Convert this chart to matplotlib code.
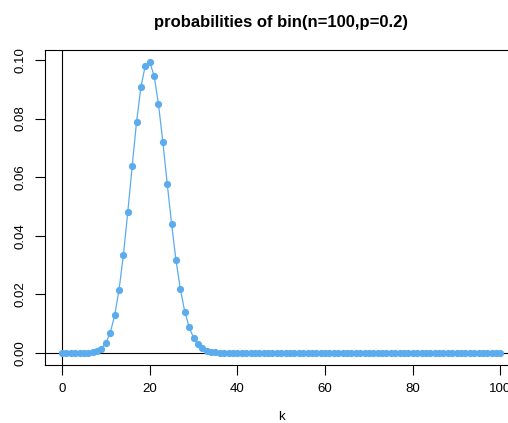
import matplotlib
matplotlib.use("Agg")
import matplotlib.pyplot as plt

plt.rcParams['font.family'] = ['Liberation Sans', 'DejaVu Sans']

# k = 0..100 and the probabilities
k = list(range(101))
prob_head = [0.0, 0.0, 0.0, 0.0, 0.0, 0.00001, 0.00006, 0.0002, 0.0006, 0.0015,
             0.0034, 0.0069, 0.0128, 0.0215, 0.0335, 0.0481, 0.0638, 0.0789, 0.0909, 0.0981,
             0.0993, 0.0946, 0.0849, 0.0720, 0.0577, 0.0439, 0.0316, 0.0217, 0.0141, 0.0088,
             0.0052, 0.0029, 0.0016, 0.0008, 0.0004, 0.0002, 0.0001, 0.00004, 0.00002, 0.00001]
prob = prob_head + [0.0] * (101 - len(prob_head))

title = "probabilities of bin(n=100,p=0.2)"
xticks = [0, 20, 40, 60, 80, 100]
yticks = [0.00, 0.02, 0.04, 0.06, 0.08, 0.10]

fig = plt.figure(figsize=(5.08, 4.23), dpi=100)
ax = fig.add_axes([0.0876, 0.138, 0.932, 0.743])

col = '#5aacee'
ax.plot(k, prob, '-', color=col, lw=0.9, zorder=3)
ax.plot(k, prob, 'o', color=col, ms=5.2, mec='none', zorder=4)
ax.axhline(0, color='black', lw=0.8, zorder=2)
ax.axvline(0, color='black', lw=0.8, zorder=2)

ax.set_xlim(-4, 104)
ax.set_ylim(-0.00397, 0.1033)
ax.set_xticks(xticks)
ax.set_xticklabels([str(v) for v in xticks])
ax.set_yticks(yticks)
ax.set_yticklabels(['%.2f' % v for v in yticks], rotation=90, va='center')
ax.tick_params(direction='out', length=7, width=0.8, labelsize=9.5, pad=6)

for s in ax.spines.values():
    s.set_linewidth(0.8)

ax.set_title(title, fontsize=12, fontweight='bold', pad=17)
ax.set_xlabel('k', fontsize=9.5, labelpad=12)

fig.savefig('out.png', dpi=100)
